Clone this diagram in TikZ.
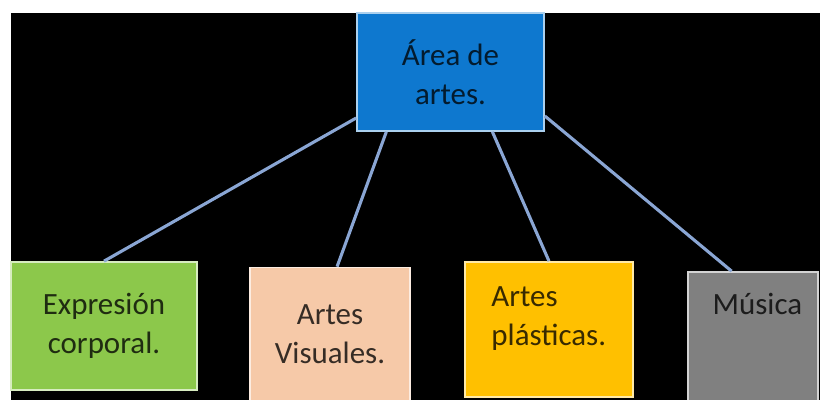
\documentclass[tikz,border=0pt]{standalone}
\usepackage{fontspec}
\setmainfont{Carlito}
\definecolor{AreaBlue}{HTML}{0E78CF}
\definecolor{BodyGreen}{HTML}{8CC84B}
\definecolor{VisualPeach}{HTML}{F6C9A8}
\definecolor{PlasticOrange}{HTML}{FFC000}
\definecolor{MusicGray}{HTML}{808080}
\definecolor{LinkBlue}{HTML}{8AA6D4}

\begin{document}
\begin{tikzpicture}[
        % Environment Config
        x=0.025cm, y=-0.025cm,
        font=\fontsize{22}{28}\selectfont,
        Box/.style={% Style for the boxes
          rectangle,
          draw=#1!35!white,
          fill=#1,
          text=#1!22!black,
          line width=1.2pt,
          align=center,
          inner sep=0pt
        },
        Inside/.style={% Style for a text set off the centre
          text=#1!22!black,
          align=left,
          inner sep=0pt
        },
        Link/.style={% Style for the connectors
          LinkBlue,
          line width=2.2pt
        }
      ]

      % Page and background
      \useasboundingbox (0,0) rectangle (820,400);
      \fill[white] (0,0) rectangle (820,400);
      \fill[black] (11,13) rectangle (820,400);

      % Put the boxes in position
      \node[Box=AreaBlue, minimum width=187*0.025cm, minimum height=118*0.025cm]
        (area) at (450.5,72) {Área de\\artes.};
      \node[Box=BodyGreen, minimum width=186*0.025cm, minimum height=128*0.025cm]
        (body) at (104,326) {Expresión\\corporal.};
      \node[Box=VisualPeach, minimum width=160*0.025cm, minimum height=133*0.025cm]
        (visual) at (330,334) {Artes\\Visuales.};
      \node[Box=PlasticOrange, minimum width=168*0.025cm, minimum height=135*0.025cm,
        label={[Inside=PlasticOrange, anchor=north west, xshift=0.675cm, yshift=-0.62cm]north west:{Artes\\plásticas.}}]
        (plastic) at (549,329.5) {};
      \node[Box=MusicGray, minimum width=130*0.025cm, minimum height=130*0.025cm,
        label={[Inside=MusicGray, anchor=north, xshift=0.11cm, yshift=-0.55cm]north:{Música}}]
        (music) at (753,337) {};

      % Draw the connectors
      \draw[Link] (area.206) -- (body.north);
      \draw[Link] (area.223) -- (visual.84);
      \draw[Link] (area.-55) -- (plastic.north);
      \draw[Link] (area.-25) -- (music.108);

\end{tikzpicture}
\end{document}
